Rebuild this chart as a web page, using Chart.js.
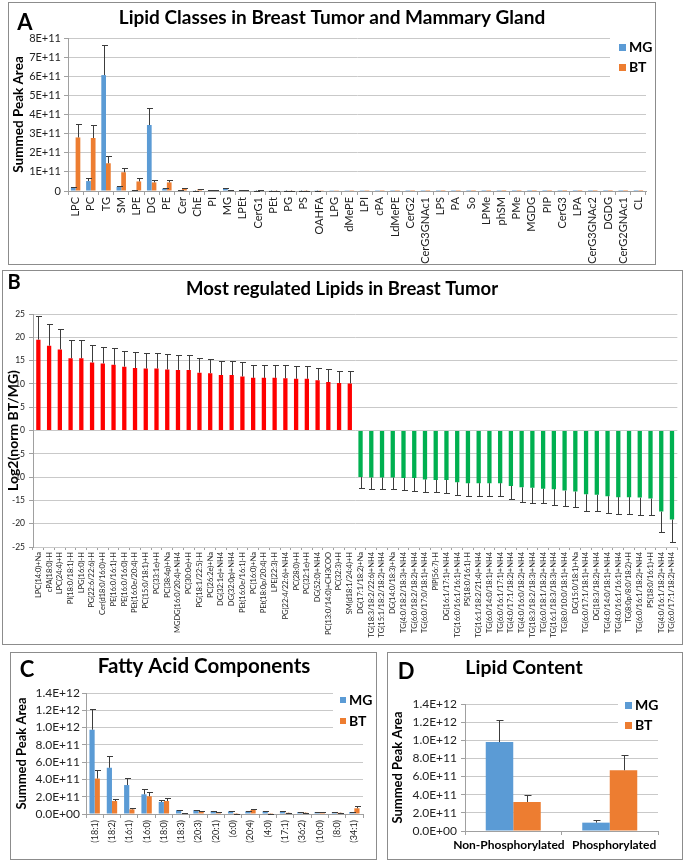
<!DOCTYPE html>
<html>
<head>
<meta charset="utf-8">
<title>Lipids in Breast Tumor and Mammary Gland</title>
<script src="https://cdn.jsdelivr.net/npm/chart.js@4.4.1/dist/chart.umd.min.js"></script>
<style>
  html, body { margin: 0; padding: 0; background: #fff; }
  body { width: 685px; height: 862px; position: relative; overflow: hidden; }
  canvas { position: absolute; }
  .frame { position: absolute; border: 1px solid #8c8c8c; box-sizing: border-box; pointer-events: none; }
</style>
</head>
<body>
<canvas id="chartA" width="648" height="263" style="left:8px;top:2px"></canvas>
<div class="frame" style="left:8px;top:2px;width:648px;height:263px"></div>

<canvas id="chartB" width="681" height="375" style="left:2px;top:270px"></canvas>
<div class="frame" style="left:2px;top:270px;width:681px;height:375px;border-width:1.5px"></div>

<canvas id="chartC" width="367" height="208" style="left:10px;top:652px"></canvas>
<div class="frame" style="left:10px;top:652px;width:367px;height:208px"></div>

<canvas id="chartD" width="296" height="208" style="left:387px;top:652px"></canvas>
<div class="frame" style="left:387px;top:652px;width:296px;height:208px"></div>

<script>
// --------- Datos ---------
// A: clases de lipidos, valores en unidades de 1E+11
const classLabels = ["LPC", "PC", "TG", "SM", "LPE", "DG", "PE", "Cer", "ChE", "PI", "MG", "LPEt",
    "CerG1", "PEt", "PG", "PS", "OAHFA", "LPG", "dMePE", "LPI", "cPA", "LdMePE", "CerG2",
    "CerG3GNAc1", "LPS", "PA", "So", "LPMe", "phSM", "PMe", "MGDG", "PIP", "CerG3", "LPA",
    "CerG3GNAc2", "DGDG", "CerG2GNAc1", "CL"];
const classMG = [0.19, 0.52, 6.06, 0.22, 0.05, 3.45, 0.13, 0.03, 0.02, 0.04, 0.11, 0.03,
    0.02, 0.02, 0.02, 0.02, 0.015, 0.01, 0.01, 0.008, 0.006, 0.005, 0.005,
    0.004, 0.004, 0.004, 0.003, 0.003, 0.003, 0.003, 0.002, 0.002, 0.002, 0.002,
    0.001, 0.001, 0.001, 0.001];
const classMGErr = [0.02, 0.18, 1.55, 0.03, 0.01, 0.88, 0.02, 0.005, 0.005, 0.01, 0.04, 0.005,
    0.005, 0.005, 0.005, 0.005, 0.003, 0, 0, 0, 0, 0, 0, 0, 0, 0, 0, 0, 0, 0, 0, 0, 0, 0, 0, 0, 0, 0];
const classBT = [2.80, 2.77, 1.45, 0.98, 0.50, 0.45, 0.45, 0.11, 0.09, 0.05, 0.05, 0.035,
    0.025, 0.02, 0.02, 0.015, 0.012, 0.01, 0.008, 0.006, 0.005, 0.004, 0.004,
    0.003, 0.003, 0.003, 0.003, 0.002, 0.002, 0.002, 0.002, 0.002, 0.001, 0.001,
    0.001, 0.001, 0.001, 0.001];
const classBTErr = [0.68, 0.66, 0.38, 0.22, 0.16, 0.14, 0.14, 0.04, 0.03, 0.02, 0.01, 0.01,
    0.005, 0.005, 0.005, 0.005, 0, 0, 0, 0, 0, 0, 0, 0, 0, 0, 0, 0, 0, 0, 0, 0, 0, 0, 0, 0, 0, 0];
const classTicks = ["0", "1E+11", "2E+11", "3E+11", "4E+11", "5E+11", "6E+11", "7E+11", "8E+11"];

// B: lipidos mas regulados, Log2(norm BT/MG)
const upLabels = ["LPC(14:0)+Na", "cPA(18:0)-H", "LPC(24:4)+H", "PI(18:0/18:1)-H", "LPG(16:0)-H",
    "PG(22:6/22:6)-H", "Cer(d18:0/16:0)+H", "PE(16:0/16:1)-H", "PE(16:0/16:0)-H",
    "PEt(16:0e/20:4)-H", "PC(15:0/18:1)+H", "PC(33:1e)+H", "PC(38:4p)+Na",
    "MGDG(16:0/20:4)+NH4", "PC(30:0e)+H", "PG(18:1/22:5)-H", "PC(26:2e)+Na",
    "DG(32:1e)+NH4", "DG(32:0p)+NH4", "PEt(16:0e/16:1)-H", "PC(16:0)+Na",
    "PEt(18:0p/20:4)-H", "LPE(22:3)-H", "PG(22:4/22:6)+NH4", "PC(28:0)+H", "PC(32:1e)+H",
    "DG(52:0)+NH4", "PC(13:0/14:0)+CH3COO", "PC(32:3)+H", "SM(d18:1/24:4)+H"];
const upValues = [19.5, 18.2, 17.4, 15.5, 15.5, 14.6, 14.4, 14.1, 13.7, 13.4, 13.3, 13.3, 13.1,
    13.0, 13.0, 12.4, 12.3, 11.9, 11.9, 11.6, 11.3, 11.3, 11.3, 11.2, 11.1, 11.1, 10.8,
    10.4, 10.2, 10.1];
const upErr = [5.0, 4.7, 4.4, 4.0, 4.0, 3.8, 3.6, 3.5, 3.4, 3.5, 3.4, 3.3, 3.4, 3.3, 3.3, 3.2,
    3.1, 3.0, 3.0, 3.0, 2.8, 2.8, 2.8, 2.8, 2.8, 2.8, 2.7, 2.7, 2.6, 2.6];
const downLabels = ["DG(17:1/18:2)+Na", "TG(18:3/18:2/22:6)+NH4", "TG(15:1/18:2/18:2)+NH4",
    "DG(14:0/18:3)+Na", "TG(4:0/18:2/18:3)+NH4", "TG(6:0/18:2/18:2)+NH4",
    "TG(6:0/17:0/18:1)+NH4", "PIP(56:7)-H", "DG(16:1/17:1)+NH4", "TG(16:0/16:1/16:1)+NH4",
    "PS(18:0/16:1)-H", "TG(16:1/18:2/21:4)+NH4", "TG(6:0/14:0/18:1)+NH4",
    "TG(6:0/16:1/17:1)+NH4", "TG(4:0/17:1/18:2)+NH4", "TG(4:0/16:0/18:2)+NH4",
    "TG(18:3/18:2/18:3)+NH4", "TG(6:0/18:1/18:2)+NH4", "TG(16:1/18:3/18:3)+NH4",
    "TG(8:0/10:0/18:1)+NH4", "DG(15:0/18:1)+Na", "TG(6:0/17:1/18:1)+NH4",
    "DG(18:3/18:2)+NH4", "TG(4:0/14:0/18:1)+NH4", "TG(4:0/16:1/16:1)+NH4",
    "TG(8:0p/8:0/18:2)+H", "TG(6:0/16:1/18:2)+NH4", "PS(18:0/16:1)+H",
    "TG(4:0/16:1/18:2)+NH4", "TG(6:0/17:1/18:2)+NH4"];
const downValues = [-10.0, -10.1, -10.1, -10.1, -10.2, -10.2, -10.5, -10.6, -10.6, -11.1, -11.3,
    -11.3, -11.3, -11.3, -11.9, -12.2, -12.3, -12.5, -12.6, -12.9, -13.1, -13.7, -13.8, -14.1,
    -14.3, -14.3, -14.4, -14.6, -17.4, -19.1];
const downErr = [2.4, 2.5, 2.5, 2.5, 2.6, 2.7, 2.7, 2.7, 2.8, 2.8, 2.8, 2.8, 2.8, 2.8, 2.9, 3.2,
    3.2, 3.1, 3.3, 3.2, 3.3, 3.5, 3.5, 3.6, 3.6, 3.6, 3.7, 3.6, 4.4, 4.8];
const log2Ticks = ["-25", "-20", "-15", "-10", "-5", "0", "5", "10", "15", "20", "25"];

// C: acidos grasos, unidades de 1E+11
const faLabels = ["(18:1)", "(18:2)", "(16:1)", "(16:0)", "(18:0)", "(18:3)", "(20:3)", "(20:1)",
    "(6:0)", "(20:4)", "(4:0)", "(17:1)", "(36:2)", "(10:0)", "(8:0)", "(34:1)"];
const faMG = [9.75, 5.35, 3.35, 2.28, 1.39, 0.46, 0.46, 0.35, 0.31, 0.31, 0.31, 0.30, 0.23, 0.23, 0.23, 0.22];
const faMGErr = [2.35, 1.40, 0.85, 0.66, 0.27, 0.05, 0.05, 0.03, 0.02, 0.03, 0.02, 0.03, 0.02, 0.02, 0.02, 0.02];
const faBT = [4.10, 1.50, 0.54, 2.05, 1.50, 0.08, 0.30, 0.19, 0.02, 0.46, 0.02, 0.14, 0.15, 0.20, 0.14, 0.66];
const faBTErr = [1.00, 0.28, 0.12, 0.54, 0.39, 0.02, 0.08, 0.03, 0.01, 0.12, 0.01, 0.02, 0.02, 0.02, 0.02, 0.24];

// D: contenido lipidico, unidades de 1E+11
const contentLabels = ["Non-Phosphorylated", "Phosphorylated"];
const contentMG = [9.8, 0.92];
const contentMGErr = [2.4, 0.25];
const contentBT = [3.2, 6.7];
const contentBTErr = [0.8, 1.7];
const peakTicks = ["0.0E+00", "2.0E+11", "4.0E+11", "6.0E+11", "8.0E+11", "1.0E+12", "1.2E+12", "1.4E+12"];

// Colores
const MG_COLOR = "#5B9BD5";
const BT_COLOR = "#ED7D31";
const UP_COLOR = "#FF0000";
const DOWN_COLOR = "#00B050";
const GRID = "#C9C9C9";
const AXIS = "#A0A0A0";
const TEXT = "#222";

Chart.defaults.font.family = "Lato, 'Open Sans', sans-serif";

// --------- Plugins ---------
// Barras de error (solo en la direccion del valor, como en Excel)
const errorBars = {
    id: "errorBars",
    defaults: { cap: 2.5, color: "#3c3c3c" },
    afterDatasetsDraw(chart, args, opts) {
        const { ctx } = chart;
        const yScale = chart.scales.y;
        ctx.save();
        ctx.strokeStyle = opts.color;
        ctx.lineWidth = 1;
        chart.data.datasets.forEach((ds, i) => {
            if (!ds.errors) return;
            chart.getDatasetMeta(i).data.forEach((bar, j) => {
                const v = ds.data[j];
                const e = ds.errors[j];
                if (v == null || !e) return;
                const end = v + (v < 0 ? -e : e);
                const x = Math.round(bar.x) + 0.5;
                const y1 = yScale.getPixelForValue(v);
                const y2 = Math.round(yScale.getPixelForValue(end)) + 0.5;
                ctx.beginPath();
                ctx.moveTo(x, y1);
                ctx.lineTo(x, y2);
                ctx.moveTo(x - opts.cap, y2);
                ctx.lineTo(x + opts.cap + 1, y2);
                ctx.stroke();
            });
        });
        ctx.restore();
    },
};

// Titulo, letra del panel y leyenda con fondo blanco
const deco = {
    id: "deco",
    afterDraw(chart, args, o) {
        const { ctx } = chart;
        ctx.save();
        if (o.legend) {
            const L = o.legend;
            ctx.fillStyle = "#fff";
            ctx.fillRect(L.x, L.y, L.w, L.h);
            chart.data.datasets.forEach((ds, k) => {
                const cy = L.y + L.first + k * L.gap;
                ctx.fillStyle = ds.backgroundColor;
                ctx.fillRect(L.x + L.pad, Math.round(cy - L.sq / 2), L.sq, L.sq);
                ctx.fillStyle = "#000";
                ctx.font = "bold " + L.size + "px Lato";
                ctx.textAlign = "left";
                ctx.textBaseline = "middle";
                ctx.fillText(ds.label, L.x + L.pad + L.sq + 3, cy);
            });
        }
        ctx.fillStyle = "#000";
        ctx.textBaseline = "middle";
        if (o.title) {
            ctx.font = "bold " + o.title.size + "px Lato";
            ctx.textAlign = "center";
            ctx.fillText(o.title.text, o.title.x, o.title.y);
        }
        if (o.letter) {
            ctx.font = "bold " + o.letter.size + "px Lato";
            ctx.textAlign = "center";
            ctx.fillText(o.letter.text, o.letter.x, o.letter.y);
        }
        ctx.restore();
    },
};
Chart.register(errorBars, deco);

const base = {
    responsive: false,
    animation: false,
    devicePixelRatio: 1,
    events: [],
};

// --------- A ---------
new Chart(document.getElementById("chartA"), {
    type: "bar",
    data: {
        labels: classLabels,
        datasets: [
            { label: "MG", data: classMG, errors: classMGErr, backgroundColor: MG_COLOR },
            { label: "BT", data: classBT, errors: classBTErr, backgroundColor: BT_COLOR },
        ],
    },
    options: {
        ...base,
        layout: { padding: { top: 36, right: 10, left: 0, bottom: 0 } },
        datasets: { bar: { categoryPercentage: 0.62, barPercentage: 1 } },
        plugins: {
            legend: { display: false },
            tooltip: { enabled: false },
            errorBars: { cap: 2.5 },
            deco: {
                title: { text: "Lipid Classes in Breast Tumor and Mammary Gland", x: 324, y: 16, size: 19 },
                letter: { text: "A", x: 17, y: 21, size: 22 },
                legend: { x: 602, y: 36, w: 40, h: 40, pad: 9, sq: 7, first: 9, gap: 20.5, size: 14 },
            },
        },
        scales: {
            x: {
                grid: { drawOnChartArea: false, tickLength: 4, color: AXIS },
                border: { color: AXIS },
                ticks: { autoSkip: false, minRotation: 90, maxRotation: 90, font: { size: 11 }, color: TEXT, padding: 2 },
                afterFit: (s) => { s.height = 74; },
            },
            y: {
                min: 0,
                max: 8,
                ticks: { autoSkip: false, stepSize: 1, callback: (v, i) => classTicks[i], font: { size: 11 }, color: TEXT, padding: 3 },
                grid: { color: GRID, tickLength: 4, tickColor: AXIS },
                border: { color: AXIS },
                title: { display: true, text: "Summed Peak Area", font: { size: 13.5, weight: "bold" }, color: "#000", padding: { top: 3, bottom: 0 } },
                afterFit: (s) => { s.width = 60; },
            },
        },
    },
});

// --------- B ---------
const regLabels = upLabels.concat(downLabels);
const regValues = upValues.concat(downValues);
const regErr = upErr.concat(downErr);

new Chart(document.getElementById("chartB"), {
    type: "bar",
    data: {
        labels: regLabels,
        datasets: [{
            label: "Log2",
            data: regValues,
            errors: regErr,
            backgroundColor: regValues.map((v) => (v >= 0 ? UP_COLOR : DOWN_COLOR)),
        }],
    },
    options: {
        ...base,
        layout: { padding: { top: 44, right: 2, left: 0, bottom: 0 } },
        datasets: { bar: { categoryPercentage: 0.4, barPercentage: 1 } },
        plugins: {
            legend: { display: false },
            tooltip: { enabled: false },
            errorBars: { cap: 2.5 },
            deco: {
                title: { text: "Most regulated Lipids in Breast Tumor", x: 340, y: 19, size: 18.5 },
                letter: { text: "B", x: 12, y: 13, size: 20 },
            },
        },
        scales: {
            x: {
                grid: { drawOnChartArea: false, tickLength: 3, color: AXIS },
                border: { color: GRID },
                ticks: { autoSkip: false, minRotation: 90, maxRotation: 90, font: { size: 7.5 }, color: TEXT, padding: 2 },
                afterFit: (s) => { s.height = 98; },
            },
            y: {
                min: -25,
                max: 25,
                ticks: { autoSkip: false, stepSize: 5, callback: (v, i) => log2Ticks[i], font: { size: 8.5 }, color: TEXT, padding: 4 },
                grid: { color: GRID, tickLength: 4, tickColor: AXIS },
                border: { color: AXIS },
                title: { display: true, text: "Log2(norm BT/MG)", font: { size: 14, weight: "bold" }, color: "#000", padding: { top: 3, bottom: 0 } },
                afterFit: (s) => { s.width = 31; },
            },
        },
    },
});

// --------- C ---------
new Chart(document.getElementById("chartC"), {
    type: "bar",
    data: {
        labels: faLabels,
        datasets: [
            { label: "MG", data: faMG, errors: faMGErr, backgroundColor: MG_COLOR },
            { label: "BT", data: faBT, errors: faBTErr, backgroundColor: BT_COLOR },
        ],
    },
    options: {
        ...base,
        layout: { padding: { top: 41, right: 14, left: 0, bottom: 0 } },
        datasets: { bar: { categoryPercentage: 0.6, barPercentage: 1 } },
        plugins: {
            legend: { display: false },
            tooltip: { enabled: false },
            errorBars: { cap: 2.5 },
            deco: {
                title: { text: "Fatty Acid Components", x: 194, y: 14, size: 20.5 },
                letter: { text: "C", x: 17, y: 18, size: 22 },
                legend: { x: 323, y: 37, w: 44, h: 44, pad: 7, sq: 6, first: 11, gap: 21, size: 14 },
            },
        },
        scales: {
            x: {
                grid: { drawOnChartArea: false, tickLength: 4, color: AXIS },
                border: { color: AXIS },
                ticks: { autoSkip: false, minRotation: 90, maxRotation: 90, font: { size: 9 }, color: TEXT, padding: 2 },
                afterFit: (s) => { s.height = 46; },
            },
            y: {
                min: 0,
                max: 14,
                ticks: { autoSkip: false, stepSize: 2, callback: (v, i) => peakTicks[i], font: { size: 12 }, color: TEXT, padding: 2 },
                grid: { color: GRID, tickLength: 4, tickColor: AXIS },
                border: { color: AXIS },
                title: { display: true, text: "Summed Peak Area", font: { size: 13, weight: "bold" }, color: "#000", padding: { top: 4, bottom: 0 } },
                afterFit: (s) => { s.width = 76; },
            },
        },
    },
});

// --------- D ---------
new Chart(document.getElementById("chartD"), {
    type: "bar",
    data: {
        labels: contentLabels,
        datasets: [
            { label: "MG", data: contentMG, errors: contentMGErr, backgroundColor: MG_COLOR },
            { label: "BT", data: contentBT, errors: contentBTErr, backgroundColor: BT_COLOR },
        ],
    },
    options: {
        ...base,
        layout: { padding: { top: 52, right: 25, left: 0, bottom: 0 } },
        datasets: { bar: { categoryPercentage: 0.57, barPercentage: 1 } },
        plugins: {
            legend: { display: false },
            tooltip: { enabled: false },
            errorBars: { cap: 3 },
            deco: {
                title: { text: "Lipid Content", x: 137, y: 16, size: 19.5 },
                letter: { text: "D", x: 19, y: 20, size: 22 },
                legend: { x: 231, y: 42, w: 60, h: 42, pad: 7, sq: 7, first: 11, gap: 20, size: 14 },
            },
        },
        scales: {
            x: {
                grid: { drawOnChartArea: false, tickLength: 4, color: AXIS },
                border: { color: AXIS },
                ticks: {
                    autoSkip: false, maxRotation: 0, minRotation: 0,
                    // separa un poco las dos etiquetas largas, como en el original
                    callback: (v, i) => (i === 0 ? contentLabels[i] + "   " : "   " + contentLabels[i]),
                    font: { size: 12, weight: "bold" }, color: "#000", padding: 3,
                },
                afterFit: (s) => { s.height = 29; },
            },
            y: {
                min: 0,
                max: 14,
                ticks: { autoSkip: false, stepSize: 2, callback: (v, i) => peakTicks[i], font: { size: 12 }, color: TEXT, padding: 4 },
                grid: { color: GRID, tickLength: 4, tickColor: AXIS },
                border: { color: AXIS },
                title: { display: true, text: "Summed Peak Area", font: { size: 13, weight: "bold" }, color: "#000", padding: { top: 3, bottom: 0 } },
                afterFit: (s) => { s.width = 78; },
            },
        },
    },
});
</script>
</body>
</html>
